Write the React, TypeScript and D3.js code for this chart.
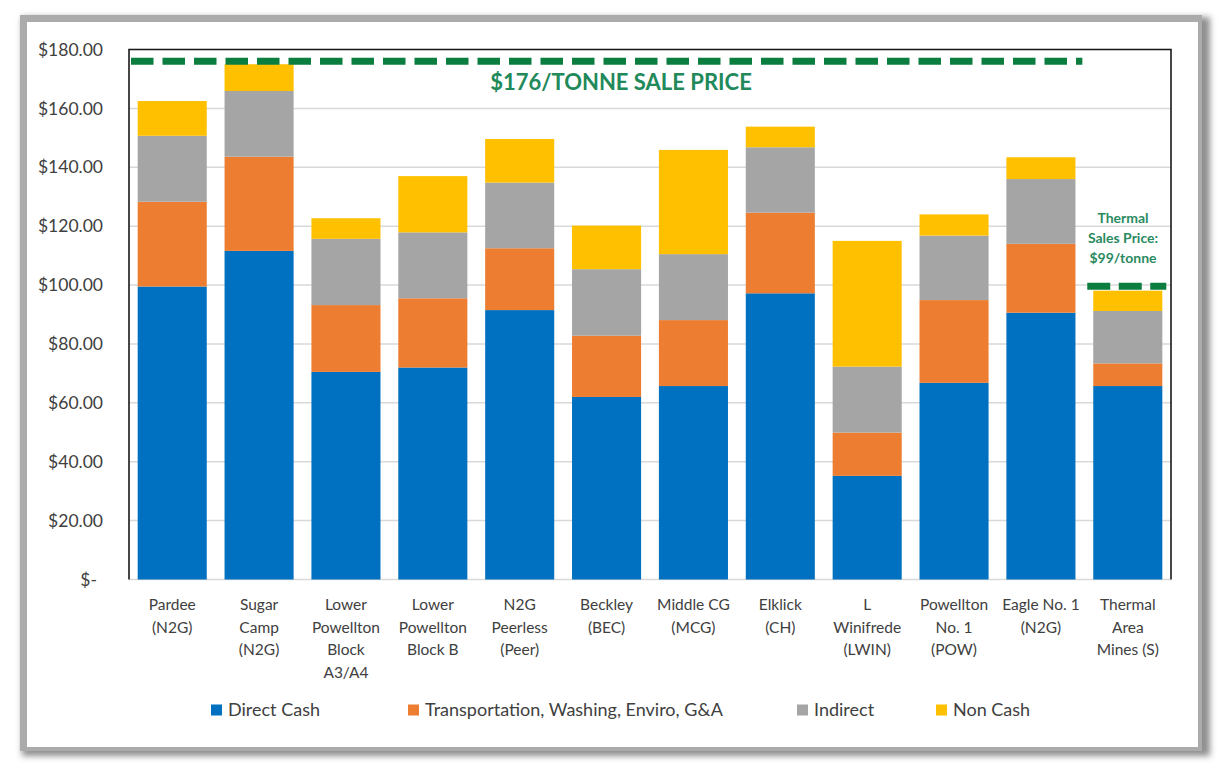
import React from "react";
import * as d3 from "d3";

const categories = [
  "Pardee\n(N2G)",
  "Sugar\nCamp\n(N2G)",
  "Lower\nPowellton\nBlock\nA3/A4",
  "Lower\nPowellton\nBlock B",
  "N2G\nPeerless\n(Peer)",
  "Beckley\n(BEC)",
  "Middle CG\n(MCG)",
  "Elklick\n(CH)",
  "L\nWinifrede\n(LWIN)",
  "Powellton\nNo. 1\n(POW)",
  "Eagle No. 1\n(N2G)",
  "Thermal\nArea\nMines (S)",
];
const directCash = [99.5, 111.6, 70.5, 72, 91.5, 62, 65.7, 97.2, 35.2, 66.8, 90.6, 65.7];
const transportation = [28.8, 32, 22.7, 23.5, 21, 20.8, 22.4, 27.4, 14.7, 28.1, 23.4, 7.7];
const indirect = [22.4, 22.3, 22.5, 22.4, 22.3, 22.6, 22.4, 22.2, 22.4, 21.9, 22, 17.8];
const nonCash = [11.8, 9.1, 7, 19.1, 14.8, 14.8, 35.4, 7, 42.7, 7.2, 7.4, 6.9];
const seriesNames = ["Direct Cash", "Transportation, Washing, Enviro, G&A", "Indirect", "Non Cash"];
const seriesColors = ["#0070C0", "#ED7D31", "#A5A5A5", "#FFC000"];
const yTicks = [0, 20, 40, 60, 80, 100, 120, 140, 160, 180];
const salePrice = 176;
const thermalPrice = 99.6;
const salePriceLabel = "$176/TONNE SALE PRICE";
const thermalLabel = ["Thermal", "Sales Price:", "$99/tonne"];

const W = 1224;
const H = 772;
const plot = { left: 129, right: 1171, top: 49.5, bottom: 579.5 };
const FONT = "Lato, 'Open Sans', sans-serif";

export default function App() {
  const keys = ["direct", "transport", "indirect", "noncash"];
  const rows = categories.map((c, i) => ({
    cat: c,
    direct: directCash[i],
    transport: transportation[i],
    indirect: indirect[i],
    noncash: nonCash[i],
  }));
  const stacked = d3.stack<any>().keys(keys)(rows);

  const x = d3
    .scaleBand<string>()
    .domain(categories)
    .range([plot.left, plot.right])
    .paddingInner(0.205)
    .paddingOuter(0.1);
  const y = d3.scaleLinear().domain([0, 180]).range([plot.bottom, plot.top]);

  const lastCat = categories[categories.length - 1];
  const prevCat = categories[categories.length - 2];
  const gap = x.step() - x.bandwidth();
  const saleX1 = (x(prevCat) as number) + x.bandwidth() + gap / 2 - 2;
  const thermX0 = (x(lastCat) as number) - 6;
  const thermX1 = (x(lastCat) as number) + x.bandwidth() + 4;

  const legendX = [211, 408, 797, 936];

  return (
    <div style={{ position: "fixed", left: 0, top: 0, width: W, height: H, background: "#fff" }}>
      <svg width={W} height={H} style={{ display: "block" }}>
        <defs>
          <filter id="sh" x="-5%" y="-5%" width="110%" height="110%">
            <feGaussianBlur stdDeviation="3" />
          </filter>
        </defs>
        <rect x={0} y={0} width={W} height={H} fill="#fff" />
        {/* card frame with shadow */}
        <rect x={22} y={17} width={1188} height={739} fill="#8f8f8f" filter="url(#sh)" />
        <rect x={20} y={15} width={1182} height={736} fill="#ababab" />
        <rect x={27} y={22} width={1171} height={725} fill="#fff" />

        {/* gridlines */}
        {yTicks.map((t) => (
          <line
            key={"g" + t}
            x1={plot.left}
            x2={plot.right}
            y1={y(t)}
            y2={y(t)}
            stroke="#D9D9D9"
            strokeWidth={1.5}
          />
        ))}

        {/* bars */}
        {stacked.map((s, si) => (
          <g key={s.key} fill={seriesColors[si]}>
            {s.map((d: any, i: number) => (
              <rect
                key={i}
                x={x(d.data.cat)}
                y={y(d[1])}
                width={x.bandwidth()}
                height={y(d[0]) - y(d[1])}
              />
            ))}
          </g>
        ))}

        {/* plot border */}
        <path
          d={`M${plot.left},${plot.bottom}V${plot.top}H${plot.right}V${plot.bottom}`}
          fill="none"
          stroke="#1a1a1a"
          strokeWidth={1.6}
        />

        {/* sale price line */}
        <line
          x1={plot.left + 2}
          x2={saleX1}
          y1={y(salePrice)}
          y2={y(salePrice)}
          stroke="#0B7D3E"
          strokeWidth={7}
          strokeDasharray="22.5 9"
        />
        <text
          x={621}
          y={90}
          textAnchor="middle"
          fontFamily={FONT}
          fontWeight={700}
          fontSize={22}
          fill="#21895A"
        >
          {salePriceLabel}
        </text>

        {/* thermal price line */}
        <line
          x1={thermX0}
          x2={thermX1}
          y1={y(thermalPrice)}
          y2={y(thermalPrice)}
          stroke="#0B7D3E"
          strokeWidth={7}
          strokeDasharray="23 8.5"
        />
        {thermalLabel.map((t, i) => (
          <text
            key={t}
            x={1123}
            y={218 + i * 20 + 5}
            textAnchor="middle"
            fontFamily={FONT}
            fontWeight={700}
            fontSize={14}
            fill="#2B8A5F"
          >
            {t}
          </text>
        ))}

        {/* y axis labels */}
        {yTicks.map((t) => (
          <text
            key={"y" + t}
            x={t === 0 ? 97 : 103}
            y={y(t)}
            dy="0.35em"
            textAnchor="end"
            fontFamily={FONT}
            fontSize={17.5}
            fill="#404040"
          >
            {t === 0 ? "$-" : "$" + t.toFixed(2)}
          </text>
        ))}

        {/* x axis labels */}
        {categories.map((c) => (
          <text
            key={"x" + c}
            x={(x(c) as number) + x.bandwidth() / 2}
            textAnchor="middle"
            fontFamily={FONT}
            fontSize={15.5}
            fill="#404040"
          >
            {c.split("\n").map((line, li) => (
              <tspan key={li} x={(x(c) as number) + x.bandwidth() / 2} y={610 + li * 22.5}>
                {line}
              </tspan>
            ))}
          </text>
        ))}

        {/* legend */}
        {seriesNames.map((n, i) => (
          <g key={n} transform={`translate(${legendX[i]},710)`}>
            <rect x={0} y={-5.5} width={11} height={11} fill={seriesColors[i]} />
            <text x={17} y={0} dy="0.35em" fontFamily={FONT} fontSize={18} fill="#404040">
              {n}
            </text>
          </g>
        ))}
      </svg>
    </div>
  );
}
